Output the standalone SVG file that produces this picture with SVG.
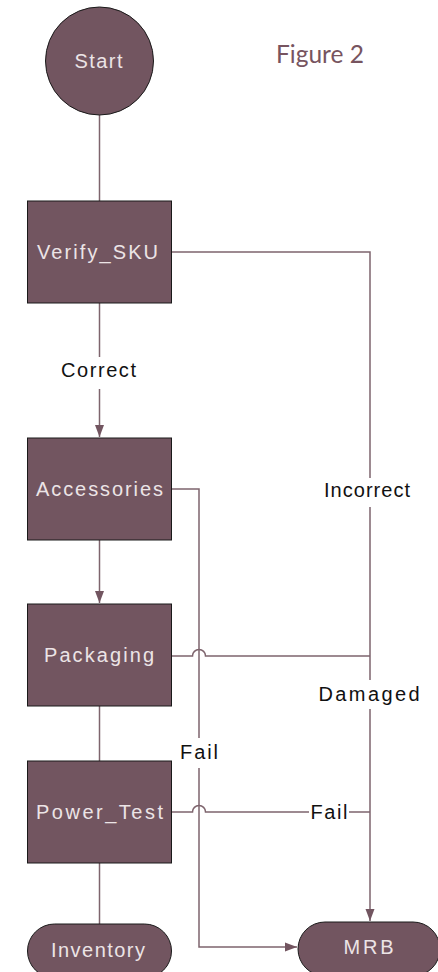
<svg xmlns="http://www.w3.org/2000/svg" width="438" height="972" viewBox="0 0 438 972">
<style>
.box{fill:#725560;stroke:#1a1a1a;stroke-width:1}
.nt{fill:#ece4e6;font-family:"Liberation Sans",Arial,sans-serif;font-size:20px;text-anchor:middle}
.ln{fill:none;stroke:#7e646d;stroke-width:1.5}
.lb{fill:#111;font-family:"Liberation Sans",Arial,sans-serif;font-size:20px;text-anchor:middle}
.bg{fill:#fff}
</style>
<defs>
<marker id="ah" markerUnits="userSpaceOnUse" markerWidth="12" markerHeight="16" viewBox="0 0 16 12" refX="16" refY="6" orient="auto">
<path d="M0,0 L16,6 L0,12 Z" fill="#725560"/>
</marker>
</defs>
<rect width="438" height="972" fill="#fff"/>
<text x="320" y="63" font-family="Lato,'Open Sans',sans-serif" font-size="25" fill="#77545f" text-anchor="middle" textLength="88" lengthAdjust="spacingAndGlyphs">Figure 2</text>
<g id="connectors">
<path class="ln" d="M99.5,115 V201"/>
<path class="ln" d="M172,252 H370 V921" marker-end="url(#ah)"/>
<path class="ln" d="M99.5,303 V437" marker-end="url(#ah)"/>
<path class="ln" d="M172,489 H199 V947 H297" marker-end="url(#ah)"/>
<path class="ln" d="M99.5,540 V603" marker-end="url(#ah)"/>
<path class="ln" d="M172,656 H192.5 A6.5,6.5 0 0 1 205.5,656 H370"/>
<path class="ln" d="M99.5,706 V761"/>
<path class="ln" d="M172,812 H192.5 A6.5,6.5 0 0 1 205.5,812 H370"/>
<path class="ln" d="M99.5,863 V924"/>
<rect class="bg" x="58" y="357" width="82" height="32"/>
<text class="lb" x="98.5" y="377" textLength="75" lengthAdjust="spacing">Correct</text>
<rect class="bg" x="322" y="478" width="90" height="29"/>
<text class="lb" x="367" y="497" textLength="86" lengthAdjust="spacing">Incorrect</text>
<rect class="bg" x="316" y="680" width="106" height="29"/>
<text class="lb" x="369" y="700.5" textLength="101" lengthAdjust="spacing">Damaged</text>
<rect class="bg" x="178" y="738" width="42" height="30"/>
<text class="lb" x="199" y="759" textLength="38" lengthAdjust="spacing">Fail</text>
<rect class="bg" x="309" y="800" width="40" height="26"/>
<text class="lb" x="329" y="819" textLength="37" lengthAdjust="spacing">Fail</text>
</g>
<g id="start">
<circle class="box" cx="99.5" cy="61" r="54"/>
<text class="nt" x="98.5" y="68" font-size="21" textLength="48" lengthAdjust="spacing">Start</text>
</g>
<g id="verify_sku">
<rect class="box" x="27.5" y="201" width="144" height="102"/>
<text class="nt" x="97.5" y="259" textLength="121" lengthAdjust="spacing">Verify_SKU</text>
</g>
<g id="accessories">
<rect class="box" x="27.5" y="438" width="144" height="102"/>
<text class="nt" x="99.5" y="496" textLength="127" lengthAdjust="spacing">Accessories</text>
</g>
<g id="packaging">
<rect class="box" x="27.5" y="604" width="144" height="102"/>
<text class="nt" x="99" y="661.5" textLength="110" lengthAdjust="spacing">Packaging</text>
</g>
<g id="power_test">
<rect class="box" x="27.5" y="761" width="144" height="102"/>
<text class="nt" x="99.5" y="819" textLength="127" lengthAdjust="spacing">Power_Test</text>
</g>
<g id="inventory">
<rect class="box" x="27.5" y="924" width="144" height="54" rx="27" ry="27"/>
<text class="nt" x="98" y="957" textLength="94" lengthAdjust="spacing">Inventory</text>
</g>
<g id="mrb">
<rect class="box" x="298" y="922" width="142" height="54" rx="27" ry="27"/>
<text class="nt" x="368.5" y="954" textLength="50" lengthAdjust="spacing">MRB</text>
</g>
</svg>
